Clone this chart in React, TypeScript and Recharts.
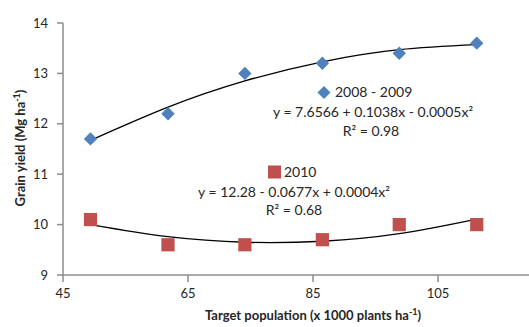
import React from 'react';
import { ComposedChart, Line, XAxis, YAxis, Customized } from 'recharts';

const population = [49.4, 61.8, 74.1, 86.5, 98.8, 111.2];
const yield0809 = [11.7, 12.2, 13.0, 13.2, 13.4, 13.6];
const yield2010 = [10.1, 9.6, 9.6, 9.7, 10.0, 10.0];
const trend0809 = [11.67, 12.33, 12.85, 13.23, 13.47, 13.57];
const trend2010 = [10.0, 9.76, 9.65, 9.67, 9.82, 10.11];
const xTicks = [45, 65, 85, 105];
const yTicks = [9, 10, 11, 12, 13, 14];

const BLUE = '#4F81BD';
const RED = '#C0504D';
const AXIS = '#8c8c8c';
const TEXT = '#262626';
const FONT = 'Lato, "Open Sans", sans-serif';

const data = population.map((x, i) => ({
  x,
  a: yield0809[i],
  b: yield2010[i],
  ta: trend0809[i],
  tb: trend2010[i],
}));

const Diamond = (props: any) => {
  const { cx, cy } = props;
  if (cx == null || cy == null) return <g />;
  const r = 6.7;
  return (
    <path
      d={`M${cx},${cy - r}L${cx + r},${cy}L${cx},${cy + r}L${cx - r},${cy}Z`}
      fill={BLUE}
    />
  );
};

const Square = (props: any) => {
  const { cx, cy } = props;
  if (cx == null || cy == null) return <g />;
  const h = 6.6;
  return <rect x={cx - h} y={cy - h} width={2 * h} height={2 * h} fill={RED} />;
};

const Annotations = () => (
  <g fontFamily={FONT} fill={TEXT}>
    {/* 2008 - 2009 legend/equation */}
    <path d="M324,86L330.5,92.5L324,99L317.5,92.5Z" fill={BLUE} />
    <text x={335} y={97} fontSize={14}>2008 - 2009</text>
    <text x={373} y={117} fontSize={14} textAnchor="middle">
      y = 7.6566 + 0.1038x - 0.0005x²
    </text>
    <text x={371} y={136} fontSize={14} textAnchor="middle">R² = 0.98</text>
    {/* 2010 legend/equation */}
    <rect x={268} y={165.5} width={13} height={13} fill={RED} />
    <text x={284} y={177} fontSize={14}>2010</text>
    <text x={294} y={197} fontSize={14} textAnchor="middle">
      y = 12.28 - 0.0677x + 0.0004x²
    </text>
    <text x={294} y={215} fontSize={14} textAnchor="middle">R² = 0.68</text>
    {/* axis titles */}
    <text
      x={313}
      y={320}
      fontSize={13}
      fontWeight="bold"
      textAnchor="middle"
    >
      Target population (x 1000 plants ha
      <tspan dy={-5} fontSize={9}>-1</tspan>
      <tspan dy={5}>)</tspan>
    </text>
    <text
      x={0}
      y={0}
      transform="translate(25,148) rotate(-90)"
      fontSize={13}
      fontWeight="bold"
      textAnchor="middle"
    >
      Grain yield (Mg ha
      <tspan dy={-5} fontSize={9}>-1</tspan>
      <tspan dy={5}>)</tspan>
    </text>
  </g>
);

export default function App() {
  return (
    <div style={{ position: 'absolute', left: 0, top: 0, width: 529, height: 327, background: '#fff' }}>
      <ComposedChart
        width={529}
        height={327}
        data={data}
        margin={{ top: 23, right: 0, left: 0, bottom: 0 }}
      >
        <XAxis
          dataKey="x"
          type="number"
          domain={[45, 119.56]}
          ticks={xTicks}
          allowDataOverflow
          height={52}
          stroke={AXIS}
          strokeWidth={1.5}
          tickSize={7}
          tickMargin={7}
          tick={{ fill: TEXT, fontSize: 13, fontFamily: FONT }}
        />
        <YAxis
          type="number"
          domain={[9, 14]}
          ticks={yTicks}
          width={63}
          stroke={AXIS}
          strokeWidth={1.5}
          tickSize={6}
          tickMargin={9}
          tick={{ fill: TEXT, fontSize: 13, fontFamily: FONT }}
        />
        <Line
          dataKey="a"
          stroke="none"
          dot={Diamond}
          activeDot={false}
          isAnimationActive={false}
        />
        <Line
          dataKey="b"
          stroke="none"
          dot={Square}
          activeDot={false}
          isAnimationActive={false}
        />
        <Line
          dataKey="ta"
          type="natural"
          stroke="#000"
          strokeWidth={1.3}
          dot={false}
          activeDot={false}
          isAnimationActive={false}
        />
        <Line
          dataKey="tb"
          type="natural"
          stroke="#000"
          strokeWidth={1.3}
          dot={false}
          activeDot={false}
          isAnimationActive={false}
        />
        <Customized component={Annotations} />
      </ComposedChart>
    </div>
  );
}
